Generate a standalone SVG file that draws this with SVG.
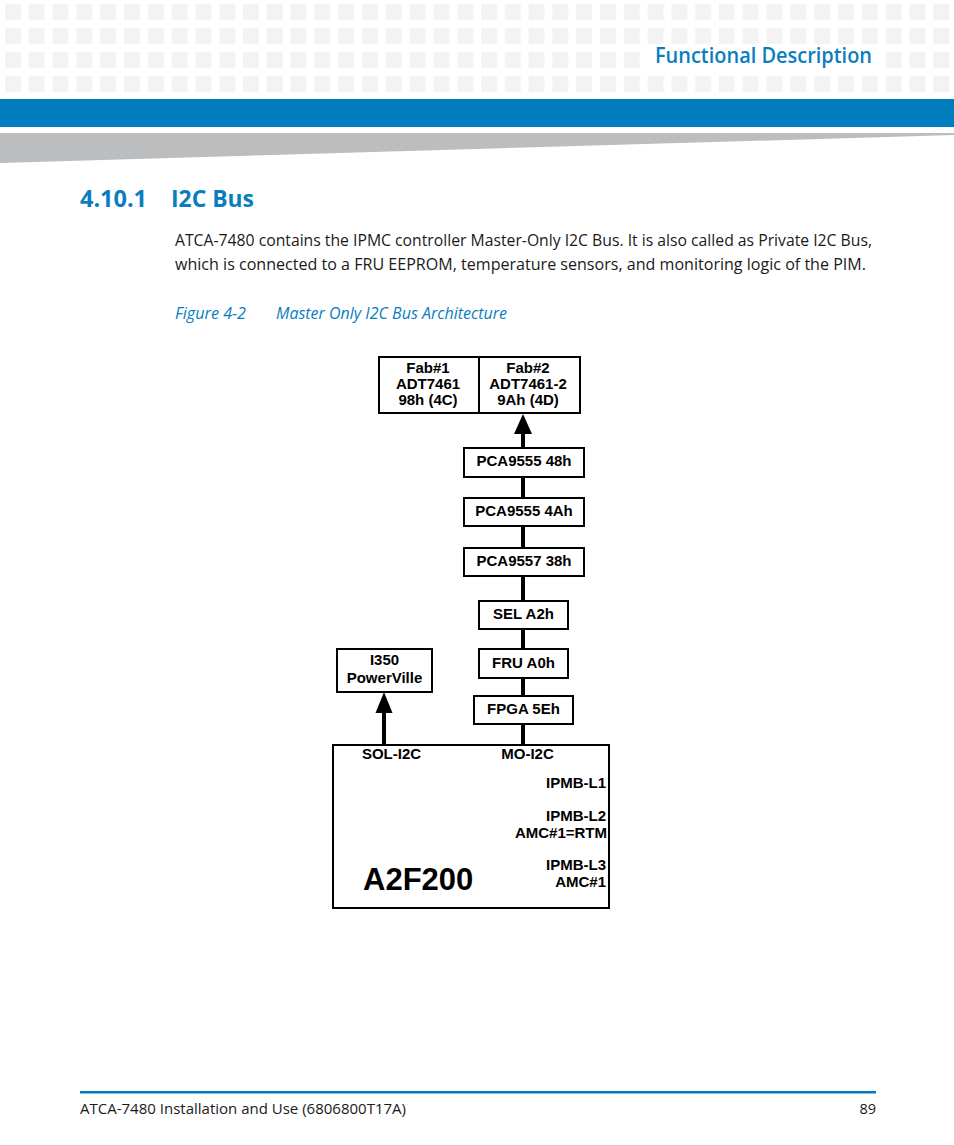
<svg xmlns="http://www.w3.org/2000/svg" width="954" height="1145" viewBox="0 0 954 1145">
<defs>
<pattern id="grid" x="5" y="4" width="23.8" height="24" patternUnits="userSpaceOnUse">
<rect x="0" y="0" width="16" height="16" fill="#f3f3f3"/>
</pattern>
</defs>
<style>
.page{font-family:"Open Sans","Noto Sans","Liberation Sans",sans-serif;}
.blue{fill:#0a7dbf;}
.body{font-size:16.5px;fill:#1a1a1a;}
.cap{font-size:16.5px;font-style:italic;fill:#0a7dbf;}
.foot{font-size:14.5px;fill:#1a1a1a;}
.box{fill:#ffffff;stroke:#000000;stroke-width:2;}
.lbl{font-family:"Liberation Sans",Arial,sans-serif;font-weight:bold;font-size:15px;fill:#000000;text-anchor:middle;}
.rlbl{font-family:"Liberation Sans",Arial,sans-serif;font-weight:bold;font-size:15px;fill:#000000;text-anchor:end;}
.wire{stroke:#000000;stroke-width:4;fill:none;}
.head{fill:#000000;}
</style>
<rect x="0" y="0" width="954" height="1145" fill="#ffffff"/>
<!-- header -->
<rect x="0" y="4" width="954" height="90" fill="url(#grid)"/>
<rect x="640" y="48" width="244" height="24" fill="#ffffff"/>
<text class="page blue" x="655" y="63" font-size="21" font-weight="600" textLength="217" lengthAdjust="spacingAndGlyphs">Functional Description</text>
<rect x="0" y="99" width="954" height="28" fill="#007dbd"/>
<polygon points="0,133 954,133 954,135 0,163" fill="#bcbdbf"/>
<!-- title & body -->
<text class="page blue" x="80" y="207" font-size="23" font-weight="bold" textLength="67" lengthAdjust="spacingAndGlyphs">4.10.1</text>
<text class="page blue" x="171" y="207" font-size="23" font-weight="bold" textLength="83" lengthAdjust="spacingAndGlyphs">I2C Bus</text>
<text class="page body" x="175" y="246" textLength="697" lengthAdjust="spacingAndGlyphs">ATCA-7480 contains the IPMC controller Master-Only I2C Bus. It is also called as Private I2C Bus,</text>
<text class="page body" x="175" y="270" textLength="691" lengthAdjust="spacingAndGlyphs">which is connected to a FRU EEPROM, temperature sensors, and monitoring logic of the PIM.</text>
<text class="page cap" x="175" y="319" textLength="71" lengthAdjust="spacingAndGlyphs">Figure 4-2</text>
<text class="page cap" x="276" y="319" textLength="231" lengthAdjust="spacingAndGlyphs">Master Only I2C Bus Architecture</text>
<!-- connectors -->
<g id="connectors">
<line class="wire" x1="523" y1="432" x2="523" y2="449"/>
<polygon class="head" points="523,414 514,434 532,434"/>
<line class="wire" x1="523" y1="477" x2="523" y2="498"/>
<line class="wire" x1="523" y1="526" x2="523" y2="548"/>
<line class="wire" x1="523" y1="576" x2="523" y2="601"/>
<line class="wire" x1="523" y1="629" x2="523" y2="649"/>
<line class="wire" x1="523" y1="678" x2="523" y2="696"/>
<line class="wire" x1="523" y1="724" x2="523" y2="745"/>
<line class="wire" x1="384" y1="711" x2="384" y2="745"/>
<polygon class="head" points="384,692 375.5,713 392.5,713"/>
</g>
<!-- nodes -->
<g id="fab1">
<rect class="box" x="379" y="357" width="100" height="56"/>
<text class="lbl" x="428" y="373">Fab#1</text>
<text class="lbl" x="428" y="389">ADT7461</text>
<text class="lbl" x="428" y="405">98h (4C)</text>
</g>
<g id="fab2">
<rect class="box" x="479" y="357" width="101" height="56"/>
<text class="lbl" x="528" y="373">Fab#2</text>
<text class="lbl" x="528" y="389">ADT7461-2</text>
<text class="lbl" x="528" y="405">9Ah (4D)</text>
</g>
<g id="pca48">
<rect class="box" x="464" y="448" width="120" height="29"/>
<text class="lbl" x="524" y="466">PCA9555 48h</text>
</g>
<g id="pca4a">
<rect class="box" x="464" y="498" width="120" height="28"/>
<text class="lbl" x="524" y="516">PCA9555 4Ah</text>
</g>
<g id="pca38">
<rect class="box" x="464" y="548" width="120" height="28"/>
<text class="lbl" x="524" y="566">PCA9557 38h</text>
</g>
<g id="sel">
<rect class="box" x="479" y="601" width="89" height="28"/>
<text class="lbl" x="523.5" y="619">SEL A2h</text>
</g>
<g id="fru">
<rect class="box" x="479" y="649" width="89" height="29"/>
<text class="lbl" x="523.5" y="668">FRU A0h</text>
</g>
<g id="fpga">
<rect class="box" x="474" y="696" width="99" height="28"/>
<text class="lbl" x="523.5" y="714">FPGA 5Eh</text>
</g>
<g id="i350">
<rect class="box" x="337" y="649" width="95" height="43"/>
<text class="lbl" x="384.5" y="665">I350</text>
<text class="lbl" x="384.5" y="683">PowerVille</text>
</g>
<g id="a2f200">
<rect class="box" x="333" y="745" width="276" height="163"/>
<text class="lbl" x="391.5" y="759">SOL-I2C</text>
<text class="lbl" x="527.5" y="759">MO-I2C</text>
<text class="rlbl" x="606" y="788">IPMB-L1</text>
<text class="rlbl" x="606" y="821">IPMB-L2</text>
<text class="rlbl" x="607" y="838">AMC#1=RTM</text>
<text class="rlbl" x="606" y="870">IPMB-L3</text>
<text class="rlbl" x="606" y="887">AMC#1</text>
<text x="363" y="890" font-family="Liberation Sans, Arial, sans-serif" font-weight="bold" font-size="31" fill="#000000">A2F200</text>
</g>
<!-- footer -->
<rect x="80" y="1091" width="796" height="2.5" fill="#007dbd"/>
<text class="page foot" x="80" y="1114" textLength="326" lengthAdjust="spacingAndGlyphs">ATCA-7480 Installation and Use (6806800T17A)</text>
<text class="page foot" x="876" y="1114" text-anchor="end">89</text>
</svg>
